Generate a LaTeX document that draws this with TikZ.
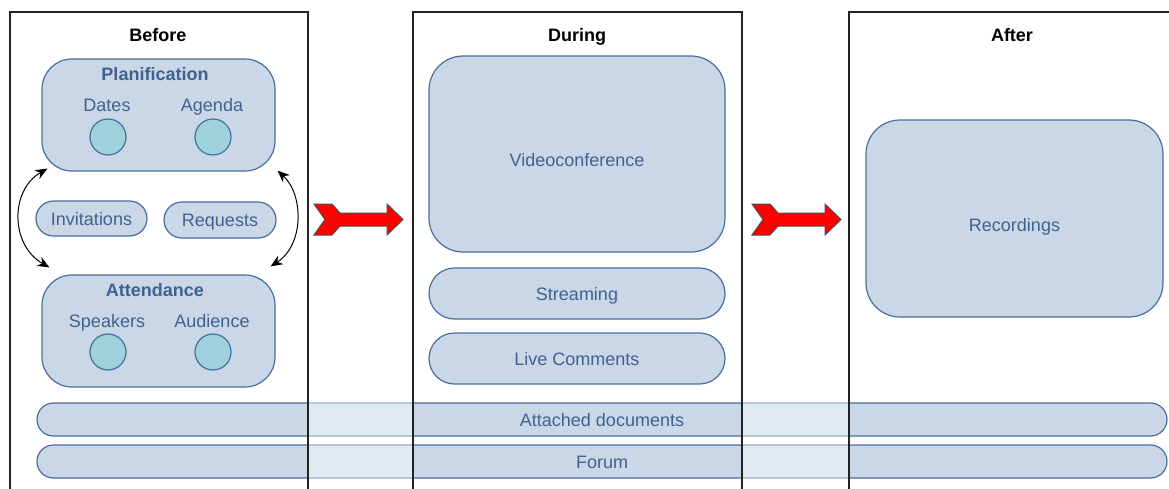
\documentclass[tikz,border=0pt]{standalone}
\usepackage{fontspec}
\setmainfont{Liberation Sans}
\usetikzlibrary{arrows.meta,shapes.misc}

\definecolor{boxfill}{HTML}{CAD7E7}
\definecolor{boxline}{HTML}{4A6D9E}
\definecolor{boxtext}{HTML}{41618F}
\definecolor{dotfill}{HTML}{9ED3DD}
\definecolor{frameline}{HTML}{222222}

\tikzset{
  phase/.style={draw=frameline, line width=1pt},
  phasetitle/.style={font=\fontsize{9}{11}\selectfont\bfseries, text=black, text height=7.5pt, text depth=0.8pt},
  bigbox/.style={draw=boxline, fill=boxfill, line width=0.6pt, rounded corners=15pt},
  pill/.style={draw=boxline, fill=boxfill, line width=0.6pt, rounded rectangle, text=boxtext, inner sep=0pt, text height=7.5pt, text depth=0.8pt},
  grptitle/.style={font=\fontsize{9}{11}\selectfont\bfseries, text=boxtext, text height=7.5pt, text depth=0.8pt},
  item/.style={text=boxtext, text height=7.5pt, text depth=0.8pt},
  dot/.style={circle, draw=boxline, fill=dotfill, line width=0.6pt, minimum size=18pt, inner sep=0pt},
  loop/.style={{Stealth[length=6pt,width=5pt]}-{Stealth[length=6pt,width=5pt]}, line width=0.5pt},
  redarrow/.style={fill=red, draw=black!70, line width=0.5pt, line join=miter}
}

\newcommand{\phasearrow}[1]{%
  \draw[redarrow, shift={(#1,0)}] (314,204) -- (332,204) -- (340,213) -- (387,213) -- (387,204)
    -- (403,219.5) -- (387,235) -- (387,226) -- (340,226) -- (332,235) -- (314,235) -- (325,219.5) -- cycle;}

\begin{document}
\begin{tikzpicture}[x=0.5pt, y=-0.5pt, font=\fontsize{9}{11}\selectfont]
  \useasboundingbox (0,0) rectangle (1169,488);
  \clip (0,0) rectangle (1169,488);

  % Bars across all phases
  \node[pill, minimum width=565pt, minimum height=16.5pt] (docs) at (602,419.5) {Attached documents};
  \node[pill, minimum width=565pt, minimum height=16.5pt] (forum) at (602,461.5) {Forum};
  % Fade the bars between the phases
  \fill[white, opacity=0.45] (308,398) rectangle (413,482);
  \fill[white, opacity=0.45] (742,398) rectangle (849,482);

  % Phase frames
  \draw[phase] (10,12) rectangle (308,520);
  \draw[phase] (413,12) rectangle (742,520);
  \draw[phase] (849,12) rectangle (1175,520);
  \node[phasetitle] (before) at (158,35) {Before};
  \node[phasetitle] (during) at (577,35) {During};
  \node[phasetitle] (after) at (1012,35) {After};

  % Before
  \node[bigbox, minimum width=116.5pt, minimum height=56pt] (plan) at (158.5,115) {};
  \node[grptitle] (plantitle) at (155,74) {Planification};
  \node[item] (dates) at (107,105) {Dates};
  \node[item] (agenda) at (212,105) {Agenda};
  \node[dot] (datesdot) at (108,137) {};
  \node[dot] (agendadot) at (213,137) {};

  \node[pill, minimum width=55.5pt, minimum height=17.5pt] (invit) at (91.5,218.5) {Invitations};
  \node[pill, minimum width=56pt, minimum height=18pt] (req) at (220,220) {Requests};

  \node[bigbox, minimum width=116.5pt, minimum height=56pt] (att) at (158.5,331) {};
  \node[grptitle] (atttitle) at (155,290) {Attendance};
  \node[item] (speak) at (107,321) {Speakers};
  \node[item] (aud) at (212,321) {Audience};
  \node[dot] (speakdot) at (108,352) {};
  \node[dot] (auddot) at (213,352) {};

  \draw[loop] ([shift={(6,-3)}]plan.south west) .. controls (10,190) and (10,245) .. ([shift={(8,-7)}]att.north west);
  \draw[loop] ([shift={(2,-1)}]plan.south east) .. controls (304,195) and (304,245) .. ([shift={(-5,-8)}]att.north east);

  \phasearrow{0}

  % During
  \node[bigbox, rounded corners=17pt, minimum width=148pt, minimum height=98pt,
        label={[item, yshift=-3pt]center:Videoconference}] (video) at (577,154) {};
  \node[pill, minimum width=148pt, minimum height=25.5pt] (stream) at (577,293.5) {Streaming};
  \node[pill, minimum width=148pt, minimum height=25.5pt] (live) at (577,358.5) {Live Comments};

  \phasearrow{438}

  % After
  \node[bigbox, rounded corners=17pt, minimum width=148.5pt, minimum height=98.5pt,
        label={[item, yshift=-3pt]center:Recordings}] (rec) at (1014.5,218.5) {};
\end{tikzpicture}
\end{document}
